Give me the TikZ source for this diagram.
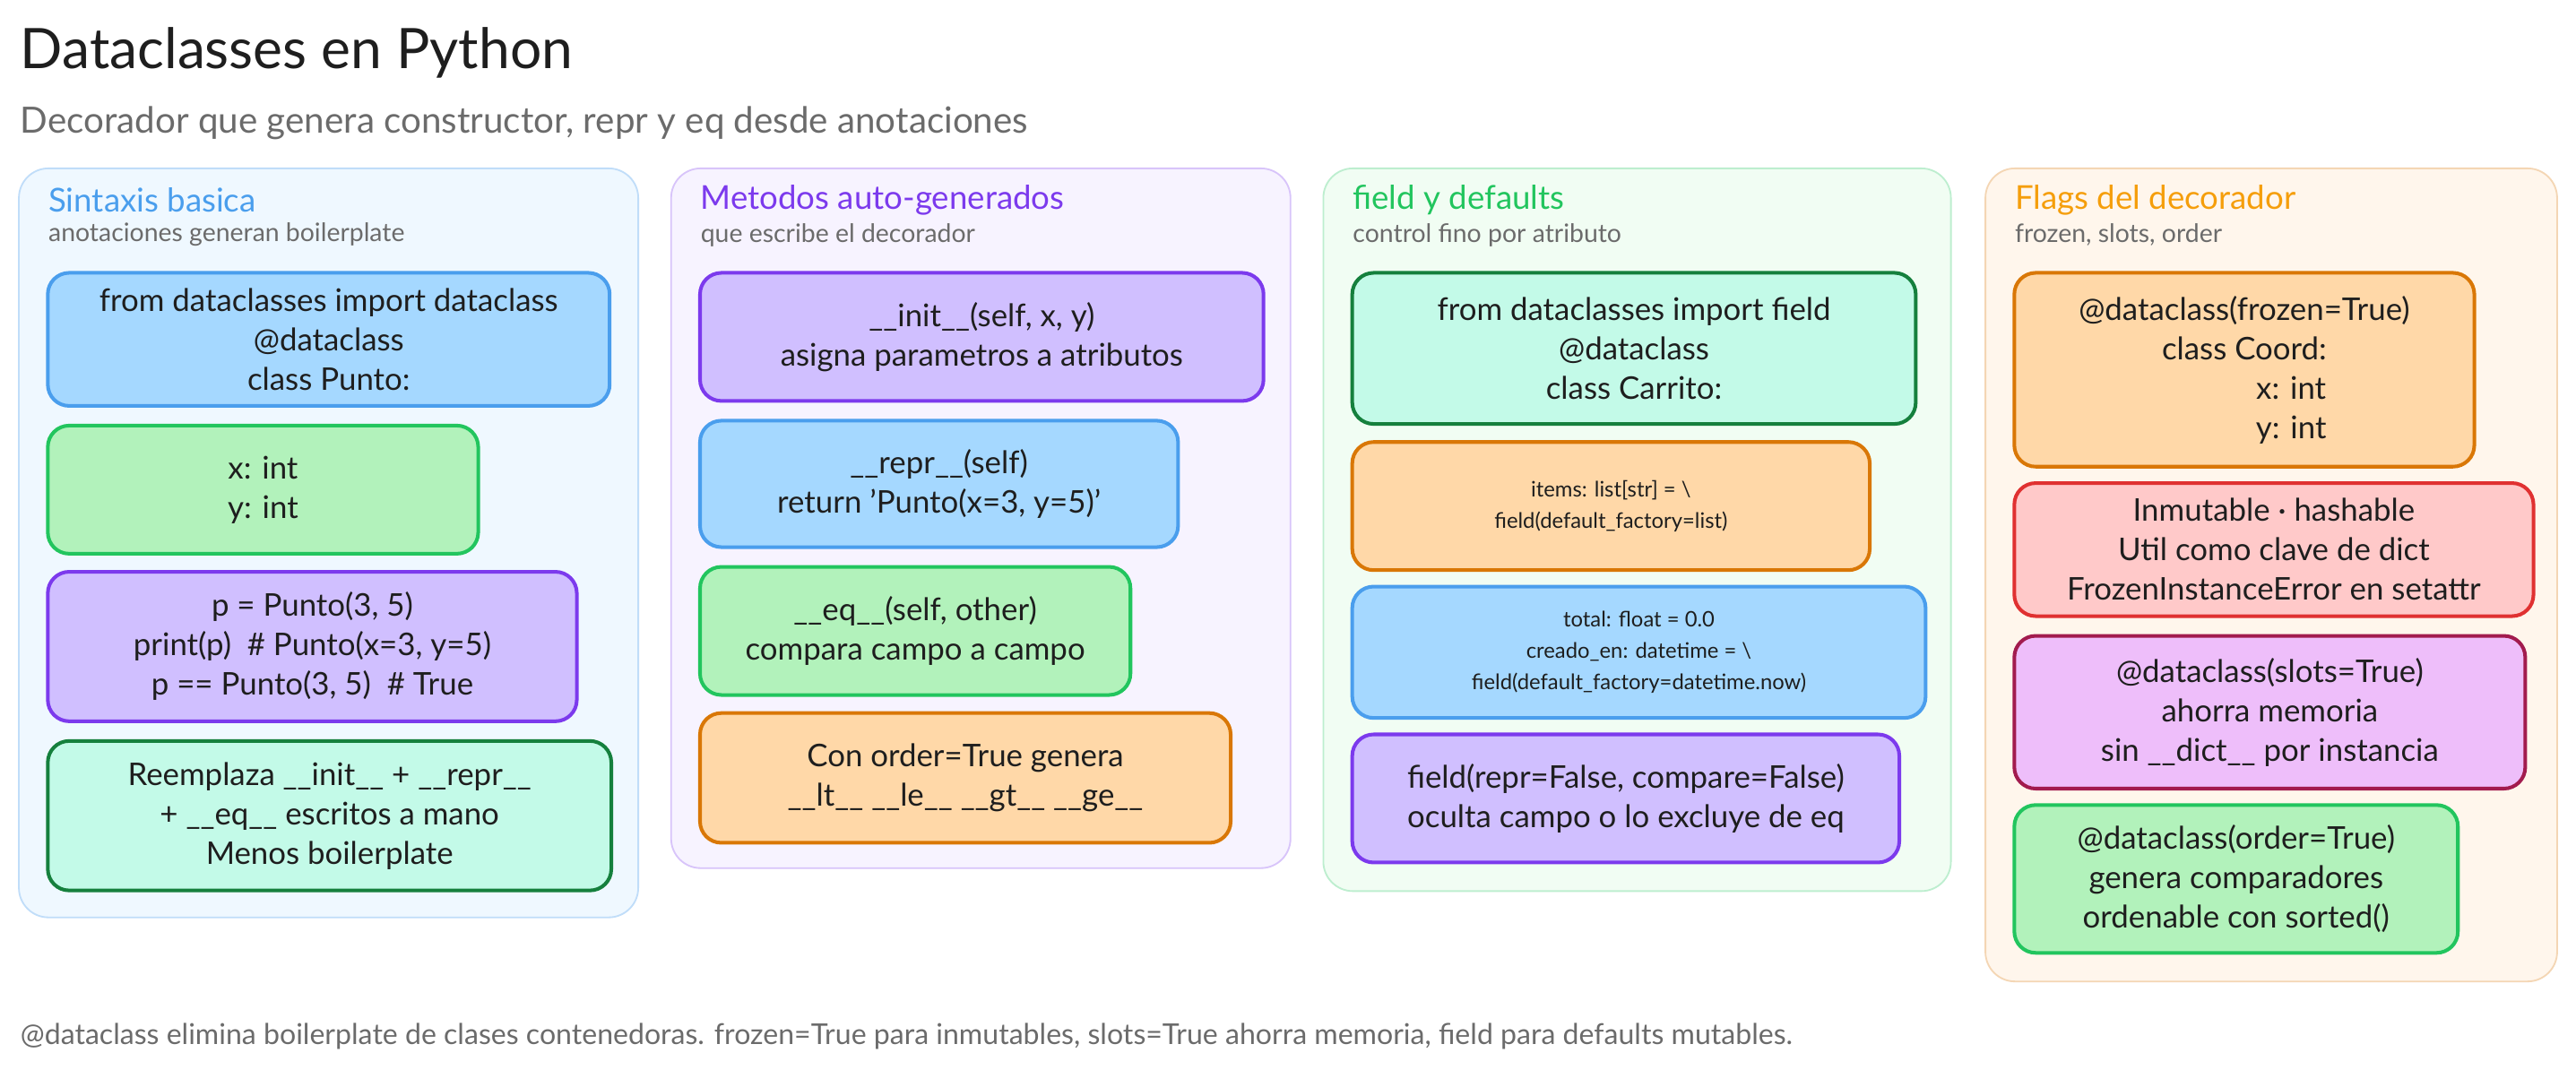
\documentclass[tikz,border=0pt]{standalone}
\usepackage{fontspec}
\setmainfont{Lato}
\definecolor{ink}{HTML}{1E1E1E}
\definecolor{gry}{HTML}{6B6B6B}
\definecolor{bF}{HTML}{A5D8FF}\definecolor{bS}{HTML}{4A9EED}
\definecolor{gF}{HTML}{B2F2BB}\definecolor{gS}{HTML}{22C55E}
\definecolor{pF}{HTML}{D0BFFF}\definecolor{pS}{HTML}{7C3AED}
\definecolor{mF}{HTML}{C3FAE8}\definecolor{mS}{HTML}{15803D}
\definecolor{oF}{HTML}{FFD8A8}\definecolor{oS}{HTML}{D97706}
\definecolor{rF}{HTML}{FFC9C9}\definecolor{rS}{HTML}{E03131}
\definecolor{kF}{HTML}{EEBEFA}\definecolor{kS}{HTML}{A21B4E}
\definecolor{amb}{HTML}{F59E0B}
\tikzset{
 x=1pt,y=-1pt,
 panel/.style={rounded corners=18pt,line width=1pt,anchor=north west,inner sep=0pt},
 box/.style={rounded corners=13pt,line width=2.2pt,anchor=north west,inner sep=0pt,align=center,text=ink,font=\fontsize{19}{24}\selectfont},
 blue/.style={box,fill=bF,draw=bS},green/.style={box,fill=gF,draw=gS},
 purple/.style={box,fill=pF,draw=pS},mint/.style={box,fill=mF,draw=mS},
 orange/.style={box,fill=oF,draw=oS},red/.style={box,fill=rF,draw=rS},
 pink/.style={box,fill=kF,draw=kS},
 small/.style={font=\fontsize{13}{19}\selectfont},
 ptitle/.style={anchor=west,font=\fontsize{20}{22}\selectfont},
 psub/.style={anchor=west,text=gry,font=\fontsize{15.5}{18}\selectfont},
}
\begin{document}
\begin{tikzpicture}
\useasboundingbox[fill=white] (0,0) rectangle (1568,651);
\node[anchor=west,text=ink,font=\fontsize{34}{38}\selectfont] (title) at (9,32) {Dataclasses en Python};
\node[anchor=west,text=gry,font=\fontsize{22}{26}\selectfont] (sub) at (9,75) {Decorador que genera constructor, repr y eq desde anotaciones};
% panels
\node[panel,fill=bF!18,draw=bS!35,minimum width=377pt,minimum height=456pt] (p1) at (11,102) {};
\node[panel,fill=pF!18,draw=pS!30,minimum width=377pt,minimum height=426pt] (p2) at (408,102) {};
\node[panel,fill=gF!18,draw=gS!30,minimum width=382pt,minimum height=440pt] (p3) at (805,102) {};
\node[panel,fill=oF!22,draw=oS!30,minimum width=348pt,minimum height=495pt] (p4) at (1208,102) {};
\node[ptitle,text=bS] (t1) at (26,122) {Sintaxis basica};
\node[psub] (s1) at (26,143) {anotaciones generan boilerplate};
\node[ptitle,text=pS] (t2) at (423,122) {Metodos auto-generados};
\node[psub] (s2) at (423,143) {que escribe el decorador};
\node[ptitle,text=gS] (t3) at (820,122) {field y defaults};
\node[psub] (s3) at (820,143) {control fino por atributo};
\node[ptitle,text=amb] (t4) at (1223,122) {Flags del decorador};
\node[psub] (s4) at (1223,143) {frozen, slots, order};
% panel 1
\node[blue,minimum width=342pt,minimum height=81pt] (a1) at (28,165) {from dataclasses import dataclass\\@dataclass\\class Punto:};
\node[green,minimum width=262pt,minimum height=78pt] (b1) at (28,258) {x: int\\y: int};
\node[purple,minimum width=322pt,minimum height=91pt] (c1) at (28,347) {p = Punto(3, 5)\\print(p)\ \ \# Punto(x=3, y=5)\\p == Punto(3, 5)\ \ \# True};
\node[mint,minimum width=343pt,minimum height=91pt] (d1) at (28,450) {Reemplaza \_\_init\_\_ + \_\_repr\_\_\\+ \_\_eq\_\_ escritos a mano\\Menos boilerplate};
% panel 2
\node[purple,minimum width=343pt,minimum height=78pt] (a2) at (425,165) {\_\_init\_\_(self, x, y)\\asigna parametros a atributos};
\node[blue,minimum width=291pt,minimum height=77pt] (b2) at (425,255) {\_\_repr\_\_(self)\\return 'Punto(x=3, y=5)'};
\node[green,minimum width=262pt,minimum height=78pt] (c2) at (425,344) {\_\_eq\_\_(self, other)\\compara campo a campo};
\node[orange,minimum width=323pt,minimum height=79pt] (d2) at (425,433) {Con order=True genera\\\_\_lt\_\_ \_\_le\_\_ \_\_gt\_\_ \_\_ge\_\_};
% panel 3
\node[mint,minimum width=343pt,minimum height=92pt] (a3) at (822,165) {from dataclasses import field\\@dataclass\\class Carrito:};
\node[orange,small,minimum width=315pt,minimum height=78pt] (b3) at (822,268) {items: list[str] = \textbackslash\\field(default\_factory=list)};
\node[blue,small,minimum width=349pt,minimum height=80pt] (c3) at (822,356) {total: float = 0.0\\creado\_en: datetime = \textbackslash\\field(default\_factory=datetime.now)};
\node[purple,minimum width=333pt,minimum height=78pt] (d3) at (822,446) {field(repr=False, compare=False)\\oculta campo o lo excluye de eq};
% panel 4
\node[orange,minimum width=280pt,minimum height=118pt] (a4) at (1225,165) {@dataclass(frozen=True)\\class Coord:\\\hspace*{3em}x: int\\\hspace*{3em}y: int};
\node[red,minimum width=316pt,minimum height=81pt] (b4) at (1225,293) {Inmutable · hashable\\Util como clave de dict\\FrozenInstanceError en setattr};
\node[pink,minimum width=311pt,minimum height=93pt] (c4) at (1225,386) {@dataclass(slots=True)\\ahorra memoria\\sin \_\_dict\_\_ por instancia};
\node[green,minimum width=270pt,minimum height=90pt] (d4) at (1225,489) {@dataclass(order=True)\\genera comparadores\\ordenable con sorted()};
\node[anchor=west,text=gry,font=\fontsize{17.5}{20}\selectfont] (foot) at (9,631) {@dataclass elimina boilerplate de clases contenedoras. frozen=True para inmutables, slots=True ahorra memoria, field para defaults mutables.};
\end{tikzpicture}
\end{document}
